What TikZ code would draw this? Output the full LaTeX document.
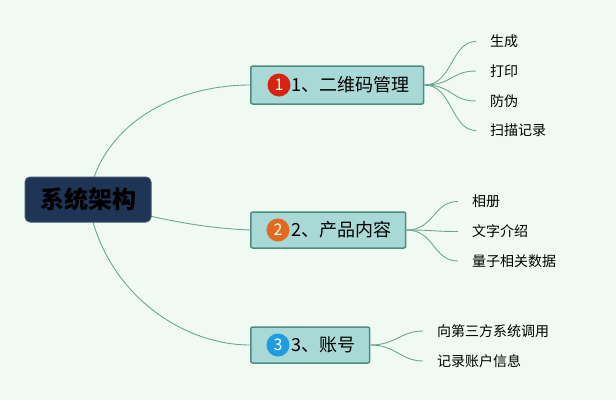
\documentclass[tikz,border=0pt]{standalone}
\usepackage{fontspec}
\setmainfont{Noto Sans CJK SC}
\usetikzlibrary{positioning,backgrounds}
\definecolor{bgmint}{RGB}{240,250,243}
\definecolor{rootblue}{RGB}{31,53,86}
\definecolor{topicfill}{RGB}{168,217,214}
\definecolor{topicline}{RGB}{78,140,126}
\definecolor{branch}{RGB}{110,165,145}
\definecolor{dotred}{RGB}{214,36,16}
\definecolor{dotorange}{RGB}{226,106,30}
\definecolor{dotblue}{RGB}{30,156,224}
\tikzset{
  root/.style ={draw=rootblue!85!white,fill=rootblue,rounded corners=5pt,line width=1pt,
                minimum width=126,minimum height=45,font=\fontsize{24}{28}\selectfont\bfseries},
  topic/.style={draw=topicline,fill=topicfill,rounded corners=2pt,line width=1.5pt,
                anchor=west,inner xsep=14pt,font=\fontsize{18}{21}\selectfont},
  badge/.style={circle,fill=#1,text=white,minimum size=23pt,inner sep=0pt,
                font=\fontsize{16}{17}\selectfont},
  leaf/.style ={anchor=west,inner xsep=14pt,font=\fontsize{14}{16}\selectfont},
  br/.style   ={draw=branch,line width=0.9pt},
}

\begin{document}
\begin{tikzpicture}[x=1pt,y=-1pt]
\useasboundingbox (0,0) rectangle (616,400);
\node[root] (R) at (88,199.5) {系统架构};
\node[topic,minimum height=38] (T1) at (250,85) {\hspace*{27pt}1、二维码管理};
\node[topic,minimum height=36] (T2) at (250,230) {\hspace*{27pt}2、产品内容};
\node[topic,minimum height=36] (T3) at (250,345) {\hspace*{27pt}3、账号};
\node[badge=dotred] (D1) at ([xshift=29pt]T1.west) {1};
\node[badge=dotorange] (D2) at ([xshift=28pt]T2.west) {2};
\node[badge=dotblue] (D3) at ([xshift=28pt]T3.west) {3};
% leaves
\node[leaf] (L11) at (476,41.5) {生成};
\node[leaf] (L12) at (476,71) {打印};
\node[leaf] (L13) at (476,101) {防伪};
\node[leaf] (L14) at (476,130.5) {扫描记录};
\node[leaf] (L21) at (458,201.5) {相册};
\node[leaf] (L22) at (458,231.5) {文字介绍};
\node[leaf] (L23) at (458,261) {量子相关数据};
\node[leaf] (L31) at (423,331) {向第三方系统调用};
\node[leaf] (L32) at (423,361) {记录账户信息};
\begin{scope}[on background layer]
\fill[bgmint] (0,0) rectangle (616,400);
\draw[br] (R.center) .. controls (102,120) and (180,85) .. (T1.west);
\draw[br] (R.center) .. controls (150,218) and (200,228) .. (T2.west);
\draw[br] (R.center) .. controls (102,290) and (180,345) .. (T3.west);
\end{scope}
\foreach \l in {L11,L12,L13,L14} \draw[br] (T1.east) .. controls +(28,0) and +(-25,0) .. (\l.west);
\foreach \l in {L21,L22,L23} \draw[br] (T2.east) .. controls +(28,0) and +(-25,0) .. (\l.west);
\foreach \l in {L31,L32} \draw[br] (T3.east) .. controls +(25,0) and +(-22,0) .. (\l.west);
\end{tikzpicture}
\end{document}
